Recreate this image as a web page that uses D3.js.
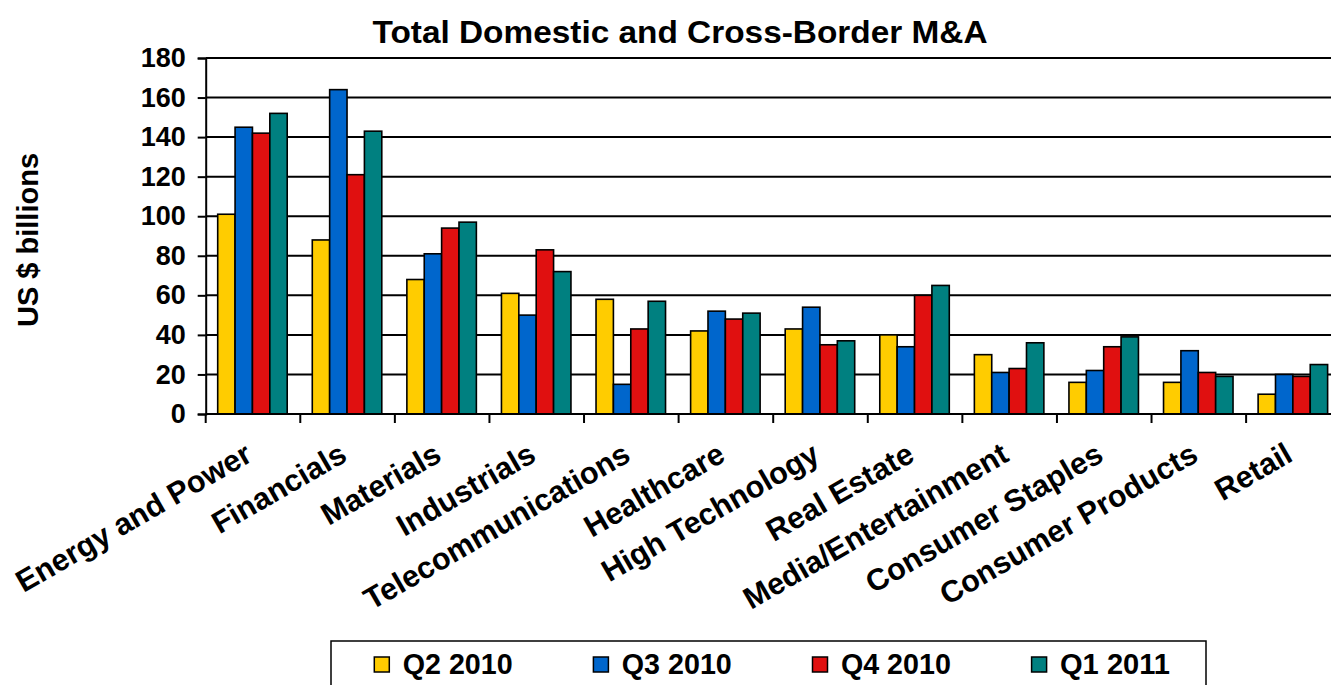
<!DOCTYPE html>
<html lang="en">

<head>
    <meta charset="UTF-8">
    <title>Total Domestic and Cross-Border M&amp;A</title>
    <style>
        html, body {
            margin: 0;
            padding: 0;
            background: white;
            overflow: hidden;
        }

        #svg {
            display: block;
            font-family: "Liberation Sans", Arial, sans-serif;
        }
    </style>
    <script src="https://d3js.org/d3.v7.min.js"></script>
</head>

<body>
    <svg id="svg"></svg>
    <script>
        const width = 1331;
        const height = 685;

        // data
        const categories = ['Energy and Power', 'Financials', 'Materials', 'Industrials',
            'Telecommunications', 'Healthcare', 'High Technology', 'Real Estate',
            'Media/Entertainment', 'Consumer Staples', 'Consumer Products', 'Retail'];
        const seriesNames = ['Q2 2010', 'Q3 2010', 'Q4 2010', 'Q1 2011'];
        const q2_2010 = [101, 88, 68, 61, 58, 42, 43, 40, 30, 16, 16, 10];
        const q3_2010 = [145, 164, 81, 50, 15, 52, 54, 34, 21, 22, 32, 20];
        const q4_2010 = [142, 121, 94, 83, 43, 48, 35, 60, 23, 34, 21, 19];
        const q1_2011 = [152, 143, 97, 72, 57, 51, 37, 65, 36, 39, 19, 25];
        const yTicks = [0, 20, 40, 60, 80, 100, 120, 140, 160, 180];
        const colors = ['#FFCC00', '#0066CC', '#E01010', '#008080'];

        const series = [q2_2010, q3_2010, q4_2010, q1_2011];

        const plotLeft = 205.7, plotRight = 1340.7, plotTop = 58, plotBottom = 414;

        const svg = d3.select('#svg')
            .attr('width', width)
            .attr('height', height);

        const x0 = d3.scaleBand()
            .domain(categories)
            .range([plotLeft, plotRight])
            .padding(0);
        const x1 = d3.scaleBand()
            .domain(seriesNames)
            .range([12, 81.5])
            .padding(0);
        const y = d3.scaleLinear()
            .domain([0, 180])
            .range([plotBottom, plotTop]);

        // gridlines
        svg.append('g')
            .selectAll('line')
            .data(yTicks.slice(1))
            .enter()
            .append('line')
            .attr('x1', plotLeft)
            .attr('x2', plotRight)
            .attr('y1', d => y(d))
            .attr('y2', d => y(d))
            .attr('stroke', '#000')
            .attr('stroke-width', 2);

        // bars
        const groups = svg.append('g')
            .selectAll('g')
            .data(categories)
            .enter()
            .append('g')
            .attr('transform', d => 'translate(' + x0(d) + ',0)');
        groups.selectAll('rect')
            .data((d, i) => series.map((s, j) => ({ key: seriesNames[j], value: s[i], color: colors[j] })))
            .enter()
            .append('rect')
            .attr('x', d => x1(d.key))
            .attr('width', x1.bandwidth())
            .attr('y', d => y(d.value))
            .attr('height', d => y(0) - y(d.value))
            .attr('fill', d => d.color)
            .attr('stroke', '#000')
            .attr('stroke-width', 1.6);

        // y axis
        const yAxis = svg.append('g')
            .attr('transform', 'translate(' + plotLeft + ',0)')
            .call(d3.axisLeft(y).tickValues(yTicks).tickSize(8).tickPadding(12));
        yAxis.select('.domain').attr('stroke', '#000').attr('stroke-width', 2);
        yAxis.selectAll('.tick line').attr('stroke', '#000').attr('stroke-width', 2);
        yAxis.selectAll('.tick text')
            .attr('fill', '#000')
            .style('font-size', '27px')
            .style('font-weight', 'bold')
            .style('font-family', '"Liberation Sans", Arial, sans-serif');

        // x axis: ticks between categories
        const xAxis = svg.append('g')
            .attr('transform', 'translate(0,' + plotBottom + ')');
        xAxis.append('line')
            .attr('x1', plotLeft)
            .attr('x2', plotRight)
            .attr('stroke', '#000')
            .attr('stroke-width', 2);
        xAxis.selectAll('.sep')
            .data(categories)
            .enter()
            .append('line')
            .attr('class', 'sep')
            .attr('x1', d => x0(d))
            .attr('x2', d => x0(d))
            .attr('y1', 0)
            .attr('y2', 9)
            .attr('stroke', '#000')
            .attr('stroke-width', 2);

        svg.append('g')
            .selectAll('text')
            .data(categories)
            .enter()
            .append('text')
            .attr('transform', d => 'translate(' + (x0(d) + x0.bandwidth() / 2 + 1) + ',460) rotate(-30)')
            .attr('text-anchor', 'end')
            .style('font-size', '30.5px')
            .style('font-weight', 'bold')
            .text(d => d);

        // title
        svg.append('text')
            .attr('x', 680)
            .attr('y', 43)
            .attr('text-anchor', 'middle')
            .attr('textLength', 615)
            .attr('lengthAdjust', 'spacingAndGlyphs')
            .style('font-size', '32px')
            .style('font-weight', 'bold')
            .text('Total Domestic and Cross-Border M&A');

        // y label
        svg.append('text')
            .attr('transform', 'translate(38,240) rotate(-90)')
            .attr('text-anchor', 'middle')
            .style('font-size', '29px')
            .style('font-weight', 'bold')
            .text('US $ billions');

        // legend
        const legend = svg.append('g');
        legend.append('rect')
            .attr('x', 331)
            .attr('y', 641)
            .attr('width', 875)
            .attr('height', 60)
            .attr('fill', 'white')
            .attr('stroke', '#000')
            .attr('stroke-width', 1.5);
        const items = legend.selectAll('.item')
            .data(seriesNames)
            .enter()
            .append('g')
            .attr('class', 'item')
            .attr('transform', (d, i) => 'translate(' + (374.3 + i * 219.1) + ',0)');
        items.append('rect')
            .attr('x', 0)
            .attr('y', 657)
            .attr('width', 15)
            .attr('height', 15)
            .attr('fill', (d, i) => colors[i])
            .attr('stroke', '#000')
            .attr('stroke-width', 1.5);
        items.append('text')
            .attr('x', 28.4)
            .attr('y', 674)
            .attr('textLength', 110)
            .attr('lengthAdjust', 'spacingAndGlyphs')
            .style('font-size', '29px')
            .style('font-weight', 'bold')
            .text(d => d);
    </script>
</body>

</html>
